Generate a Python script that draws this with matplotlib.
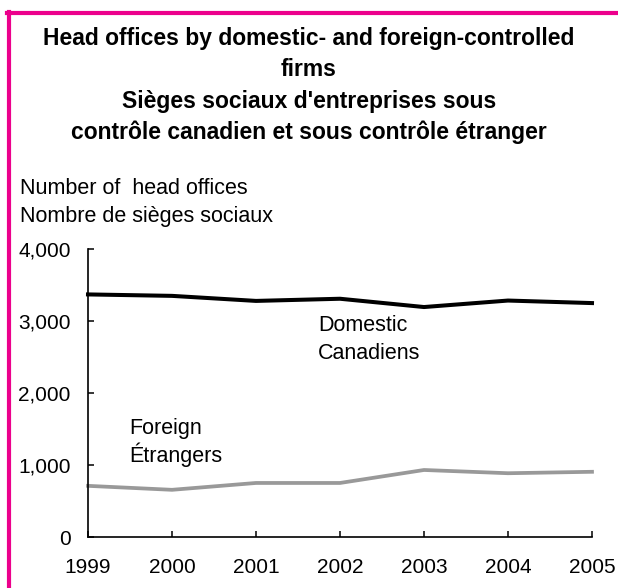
import matplotlib
matplotlib.use("Agg")
import matplotlib.pyplot as plt
from matplotlib.lines import Line2D

plt.rcParams['font.family'] = ['Liberation Sans', 'DejaVu Sans']

# Donnees
years = [1999, 2000, 2001, 2002, 2003, 2004, 2005]
domestic = [3370, 3350, 3280, 3310, 3195, 3285, 3250]
foreign = [715, 660, 755, 755, 935, 890, 910]
yticks = [0, 1000, 2000, 3000, 4000]
ytick_labels = ["0", "1,000", "2,000", "3,000", "4,000"]
title_lines = ["Head offices by domestic- and foreign-controlled",
               "firms",
               "Sièges sociaux d'entreprises sous",
               "contrôle canadien et sous contrôle étranger"]
ylabel_lines = ["Number of  head offices", "Nombre de sièges sociaux"]

W, H = 618, 588
fig = plt.figure(figsize=(W / 100, H / 100), dpi=100)

# cadre magenta (gauche et haut)
pink = '#EC008C'
fig.add_artist(Line2D([8.5 / W, 8.5 / W], [0, 1 - 12 / H], color=pink, lw=3, transform=fig.transFigure))
fig.add_artist(Line2D([7 / W, 1], [1 - 12.5 / H, 1 - 12.5 / H], color=pink, lw=3, transform=fig.transFigure))

# Titre
for i, line in enumerate(title_lines):
    fig.text(309 / W, 1 - (45 + i * 31.3) / H, line, ha='center', va='baseline',
             fontsize=16.5, fontweight='bold')

# Titre de l'axe y
for i, line in enumerate(ylabel_lines):
    fig.text(20 / W, 1 - (194 + i * 28) / H, line, ha='left', va='baseline', fontsize=15.5)

ax = fig.add_axes([88 / W, 1 - 537.4 / H, (592 - 88) / W, (537.4 - 249) / H])
ax.plot(years, domestic, color='black', lw=2.9, clip_on=False)
ax.plot(years, foreign, color='#999999', lw=2.7, clip_on=False)

ax.set_xlim(1999, 2005)
ax.set_ylim(0, 4000)
ax.set_xticks(years)
ax.set_xticklabels([str(y) for y in years])
ax.set_yticks(yticks)
ax.set_yticklabels(ytick_labels)
for s in ['top', 'right']:
    ax.spines[s].set_visible(False)
for s in ['left', 'bottom']:
    ax.spines[s].set_linewidth(1.2)
ax.tick_params(axis='both', direction='in', length=4, width=1.1, labelsize=15)
ax.tick_params(axis='y', pad=12.5)
ax.tick_params(axis='x', pad=15)

# Etiquettes des series (position en pixels -> donnees)
def px_to_data(x, y):
    return 1999 + (x - 88) / 84.0, (537.4 - y) / 0.0721

for label, (x, y) in [("Domestic", (318, 331)), ("Canadiens", (318, 359)),
                      ("Foreign", (129, 434)), ("Étrangers", (129, 462))]:
    dx, dy = px_to_data(x, y)
    ax.text(dx, dy, label, fontsize=15.5, ha='left', va='baseline')

fig.savefig("out.png", dpi=100)
